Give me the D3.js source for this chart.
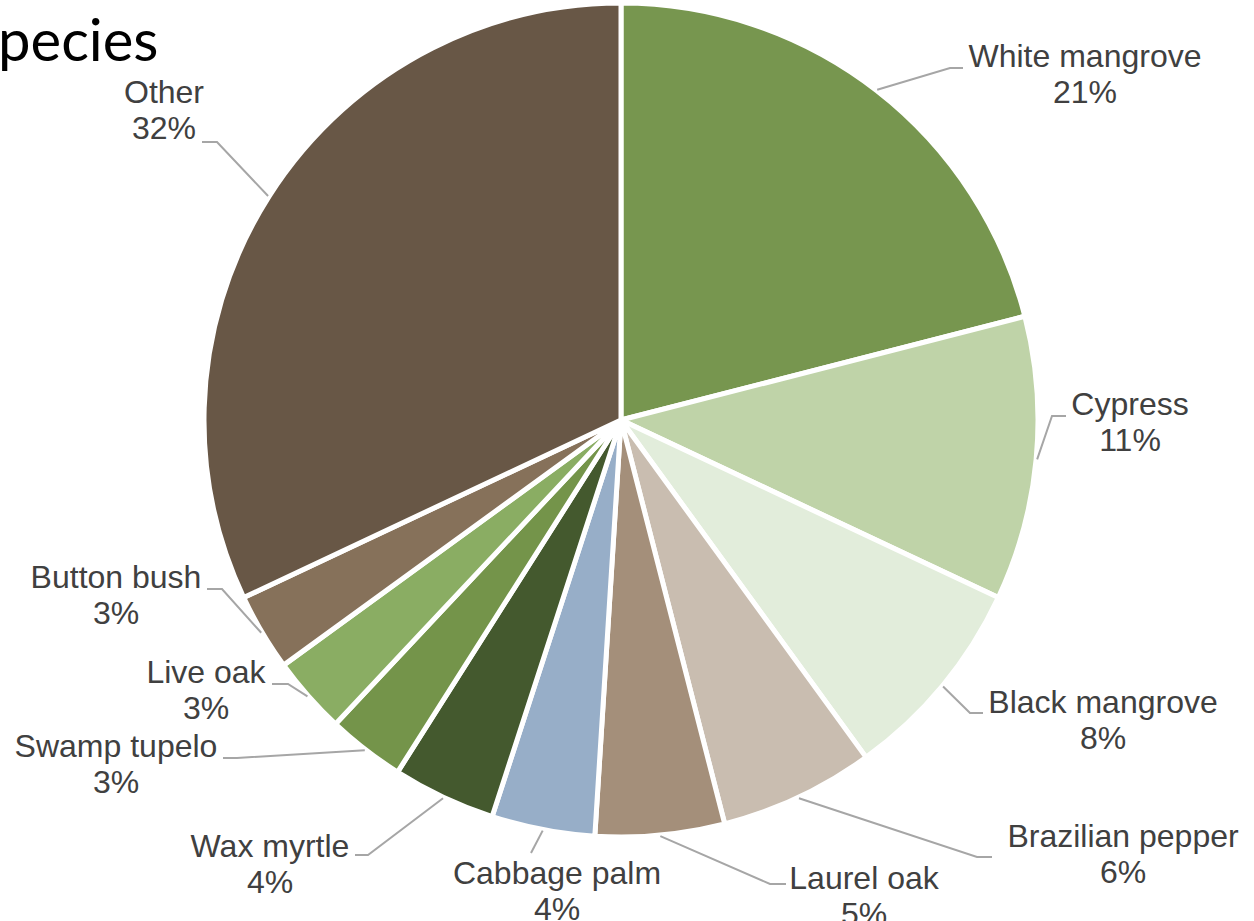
<!DOCTYPE html>
<html>
<head>
<meta charset="utf-8">
<script src="https://cdn.jsdelivr.net/npm/d3@7"></script>
<style>
  html, body { margin: 0; padding: 0; background: #ffffff; }
  svg { display: block; }
</style>
</head>
<body>
<svg id="chart" width="1254" height="921"></svg>
<script>
// Share of each species (percent), clockwise from 12 o'clock
const species = ["White mangrove", "Cypress", "Black mangrove", "Brazilian pepper", "Laurel oak",
                 "Cabbage palm", "Wax myrtle", "Swamp tupelo", "Live oak", "Button bush", "Other"];
const shares = [21, 11, 8, 6, 5, 4, 4, 3, 3, 3, 32];
const sliceColors = ["#77964f", "#bfd3a8", "#e2eddb", "#c9bdb0", "#a48f7a",
                     "#97aec8", "#44592e", "#74944a", "#8aad63", "#86715a", "#685746"];

// Label placement: text centre / first baseline, plus leader elbow and end points
const labelTextX = [1085, 1130, 1103, 1123, 864, 557, 270, 116, 206, 116, 164];
const labelTextY = [67, 415, 713, 847, 889, 884, 857, 757, 683, 588, 103];
const leaderElbow = [[950, 68], [1052, 416], [970, 713], [977, 857], [770, 884], [531, 853],
                     [368, 855], [237, 758], [288, 684], [222, 589], [217, 142]];
const leaderEnd = [[963, 68], [1066, 416], [983, 713], [992, 857], [786, 884], [531, 853],
                   [355, 855], [223, 758], [272, 684], [207, 589], [202, 142]];

const svg = d3.select("#chart");
const cx = 621, cy = 420, radius = 417;

// Cropped heading text
svg.append("text")
  .attr("x", -2)
  .attr("y", 61)
  .attr("font-family", "Lato, 'Open Sans', sans-serif")
  .attr("font-size", 58)
  .attr("fill", "#000")
  .text("pecies");

const data = species.map((name, i) => ({ name, value: shares[i], color: sliceColors[i], i }));

const pie = d3.pie().sort(null).value(d => d.value);
const arcs = pie(data);
const arc = d3.arc().innerRadius(0).outerRadius(radius);

const g = svg.append("g").attr("transform", `translate(${cx},${cy})`);

g.selectAll("path.slice")
  .data(arcs)
  .join("path")
  .attr("class", "slice")
  .attr("d", arc)
  .attr("fill", d => d.data.color)
  .attr("stroke", "#ffffff")
  .attr("stroke-width", 5)
  .attr("stroke-linejoin", "round");

// Leader lines from each slice's outer edge to its label
const leaderR = radius + 1;
svg.append("g")
  .selectAll("polyline")
  .data(arcs)
  .join("polyline")
  .attr("points", d => {
    const a = (d.startAngle + d.endAngle) / 2;
    const sx = cx + leaderR * Math.sin(a);
    const sy = cy - leaderR * Math.cos(a);
    const el = leaderElbow[d.data.i], en = leaderEnd[d.data.i];
    return [[sx, sy], el, en].map(p => p.join(",")).join(" ");
  })
  .attr("fill", "none")
  .attr("stroke", "#a6a6a6")
  .attr("stroke-width", 2);

// Category and percentage labels
const labels = svg.append("g")
  .attr("font-family", "'Liberation Sans', Arial, sans-serif")
  .attr("font-size", 32)
  .attr("fill", "#404040")
  .attr("text-anchor", "middle");

arcs.forEach(d => {
  const i = d.data.i;
  const t = labels.append("text")
    .attr("x", labelTextX[i])
    .attr("y", labelTextY[i]);
  t.append("tspan").attr("x", labelTextX[i]).text(d.data.name);
  t.append("tspan").attr("x", labelTextX[i]).attr("dy", 36).text(d3.format(".0%")(d.data.value / 100));
});
</script>
</body>
</html>
